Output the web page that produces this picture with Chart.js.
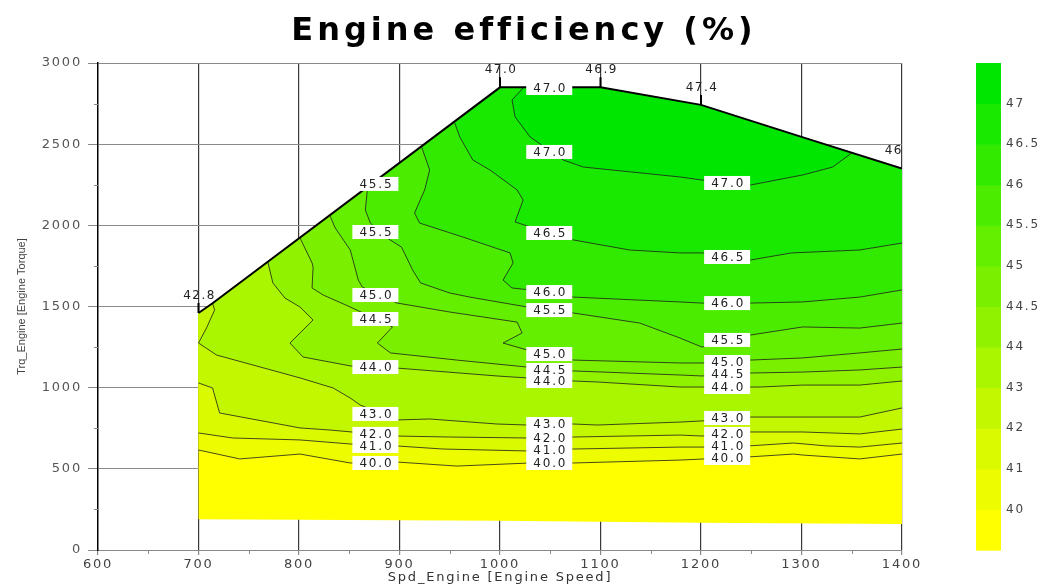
<!DOCTYPE html>
<html>
<head>
<meta charset="utf-8">
<title>Engine efficiency (%)</title>
<script src="https://cdn.jsdelivr.net/npm/chart.js"></script>
<style>
  html, body { margin: 0; padding: 0; background: #fff; }
  #wrap { width: 1044px; height: 585px; position: relative; }
</style>
</head>
<body>
<div id="wrap"><canvas id="effChart"></canvas></div>
<script>
// ---- values: speed in rpm, torque in Nm ----
const contourLevels = [40, 41, 42, 43, 44, 44.5, 45, 45.5, 46, 46.5, 47];
const cbTickLabels = ['40', '41', '42', '43', '44', '44.5', '45', '45.5', '46', '46.5', '47'];

// full load curve (top edge) and lowest measured torque (bottom edge)
const edgeSpeed = [700, 714, 1000, 1100, 1200, 1300, 1400];
const edgeTorque = [1460, 1520, 2850, 2850, 2742, 2545, 2350];
const floorSpeed = [700, 1000, 1200, 1400];
const floorTorque = [190, 180, 168, 160];

// efficiency printed on the full load curve
const edgeLabelSpeed = [700, 1000, 1100, 1200, 1400];
const edgeLabelTorque = [1460, 2850, 2850, 2742, 2350];
const edgeLabelText = ['42.8', '47.0', '46.9', '47.4', '46'];

// iso-efficiency lines
const c40Speed = [700, 741, 801, 851, 897, 957, 1030, 1073, 1179, 1247, 1292, 1301, 1358, 1400];
const c40Torque = [616, 561, 591, 536, 542, 517, 536, 536, 554, 573, 591, 585, 561, 591];
const c41Speed = [700, 734, 801, 851, 897, 943, 1027, 1073, 1179, 1201, 1247, 1292, 1325, 1358, 1400];
const c41Torque = [721, 690, 678, 653, 641, 622, 610, 622, 634, 634, 641, 659, 641, 634, 659];
const c42Speed = [700, 714, 721, 801, 831, 897, 950, 1027, 1073, 1179, 1201, 1247, 1301, 1358, 1400];
const c42Torque = [1029, 998, 844, 752, 739, 702, 696, 690, 696, 708, 702, 727, 727, 715, 745];
const c43Speed = [714, 716, 708, 700, 718, 801, 834, 851, 861, 897, 930, 997, 1027, 1073, 1097, 1179, 1201, 1247, 1301, 1358, 1400];
const c43Torque = [1520, 1478, 1368, 1275, 1201, 1060, 998, 936, 893, 801, 807, 776, 770, 776, 770, 788, 795, 819, 819, 819, 875];
const c44Speed = [769, 774, 786, 801, 814, 791, 804, 852, 897, 997, 1027, 1073, 1097, 1179, 1201, 1259, 1301, 1358, 1400];
const c44Torque = [1774, 1645, 1552, 1497, 1417, 1275, 1189, 1133, 1121, 1072, 1060, 1041, 1035, 1004, 1004, 1004, 1016, 1016, 1041];
const c445Speed = [801, 813, 814, 813, 824, 851, 893, 878, 891, 957, 1027, 1073, 1179, 1201, 1247, 1301, 1358, 1400];
const c445Torque = [1922, 1768, 1743, 1614, 1571, 1497, 1374, 1275, 1214, 1170, 1127, 1103, 1078, 1072, 1090, 1096, 1109, 1127];
const c45Speed = [831, 836, 851, 859, 863, 897, 950, 1017, 1022, 1003, 1027, 1073, 1179, 1201, 1249, 1301, 1358, 1400];
const c45Torque = [2057, 1984, 1848, 1663, 1620, 1522, 1466, 1404, 1337, 1275, 1232, 1170, 1152, 1152, 1170, 1183, 1214, 1238];
const c455Speed = [873, 868, 866, 871, 886, 902, 913, 921, 950, 970, 1027, 1073, 1139, 1179, 1201, 1249, 1301, 1358, 1400];
const c455Torque = [2255, 2218, 2094, 2014, 1928, 1866, 1725, 1645, 1583, 1558, 1497, 1460, 1398, 1306, 1250, 1324, 1374, 1367, 1398];
const c46Speed = [922, 930, 925, 915, 920, 963, 1010, 1013, 1003, 1012, 1030, 1073, 1179, 1201, 1249, 1301, 1358, 1400];
const c46Torque = [2483, 2341, 2218, 2076, 2014, 1928, 1830, 1768, 1663, 1614, 1602, 1558, 1528, 1521, 1521, 1528, 1558, 1602];
const c465Speed = [955, 960, 973, 990, 1017, 1023, 1015, 1030, 1073, 1129, 1179, 1201, 1249, 1290, 1358, 1400];
const c465Torque = [2630, 2544, 2402, 2341, 2218, 2156, 2021, 1990, 1910, 1848, 1830, 1830, 1786, 1830, 1848, 1891];
const c47Speed = [1023, 1012, 1015, 1030, 1063, 1083, 1179, 1201, 1249, 1301, 1331, 1350];
const c47Torque = [2846, 2772, 2668, 2544, 2402, 2359, 2298, 2279, 2248, 2310, 2359, 2446];

// inline labels on the iso lines (three columns)
const contourLabelSpeed = [
  876, 876, 876, 876, 876, 876, 876, 876, 876,
  1049, 1049, 1049, 1049, 1049, 1049, 1049, 1049, 1049, 1049, 1049, 1049,
  1226, 1226, 1226, 1226, 1226, 1226, 1226, 1226, 1226, 1226, 1226
];
const contourLabelTorque = [
  2255, 1959, 1571, 1423, 1127, 838, 715, 641, 536,
  2846, 2452, 1953, 1589, 1478, 1207, 1109, 1041, 776, 690, 616, 536,
  2261, 1805, 1521, 1294, 1158, 1084, 1004, 813, 715, 641, 567
];
const contourLabelText = [
  '45.5', '45.5', '45.0', '44.5', '44.0', '43.0', '42.0', '41.0', '40.0',
  '47.0', '47.0', '46.5', '46.0', '45.5', '45.0', '44.5', '44.0', '43.0', '42.0', '41.0', '40.0',
  '47.0', '46.5', '46.0', '45.5', '45.0', '44.5', '44.0', '43.0', '42.0', '41.0', '40.0'
];

// band colours, lowest (< 40) to highest (> 47)
const bandColours = [
  '#ffff00', '#eefc00', '#dafa00', '#c3f700', '#aaf500', '#91f200',
  '#7af000', '#64ee00', '#4bec00', '#32ea00', '#19e800', '#00e600'
];

const FONT = '"DejaVu Sans", "Liberation Sans", sans-serif';
const THIN = '"Liberation Sans", Arial, sans-serif';
Chart.defaults.font.family = FONT;

function pts(xs, ys) {
  return xs.map((x, i) => ({ x: x, y: ys[i] }));
}

const edge = pts(edgeSpeed, edgeTorque);
const floorLine = pts(floorSpeed, floorTorque);
const contours = [
  pts(c40Speed, c40Torque), pts(c41Speed, c41Torque), pts(c42Speed, c42Torque),
  pts(c43Speed, c43Torque), pts(c44Speed, c44Torque), pts(c445Speed, c445Torque),
  pts(c45Speed, c45Torque), pts(c455Speed, c455Torque), pts(c46Speed, c46Torque),
  pts(c465Speed, c465Torque), pts(c47Speed, c47Torque)
];

// whole mapped area
const envelope = floorLine.concat(edge.slice().reverse());

// area above an iso line: the line, then back along the full load curve
function regionAbove(line) {
  const s0 = line[0].x;
  const s1 = line[line.length - 1].x;
  const back = edge.filter(p => p.x >= s0 && p.x <= s1).reverse();
  return line.concat(back);
}

const datasets = [];
datasets.push({
  data: envelope, showLine: true, fill: 'shape', yAxisID: 'y',
  backgroundColor: bandColours[0], borderColor: 'rgba(0,0,0,0)', borderWidth: 0,
  pointRadius: 0, order: 40
});
contours.forEach((c, i) => {
  datasets.push({
    data: regionAbove(c), showLine: true, fill: 'shape', yAxisID: 'y',
    backgroundColor: bandColours[i + 1], borderColor: 'rgba(0,0,0,0)', borderWidth: 0,
    pointRadius: 0, order: 39 - i
  });
});
contours.forEach(c => {
  datasets.push({
    data: c, showLine: true, fill: false, yAxisID: 'y',
    borderColor: 'rgba(30,30,30,0.8)', borderWidth: 1, pointRadius: 0, order: 2
  });
});
datasets.push({
  data: edge, showLine: true, fill: false, yAxisID: 'y',
  borderColor: '#000', borderWidth: 2, pointRadius: 0, order: 1
});

function seg(ctx, x1, y1, x2, y2) {
  ctx.beginPath();
  ctx.moveTo(x1, y1);
  ctx.lineTo(x2, y2);
  ctx.stroke();
}

const mapExtras = {
  id: 'mapExtras',
  beforeDraw(chart) {
    chart.ctx.letterSpacing = '1.8px';
  },
  afterDraw(chart) {
    const ctx = chart.ctx;
    const xs = chart.scales.x, ys = chart.scales.y, cb = chart.scales.cb;
    const area = chart.chartArea;

    // minor ticks
    ctx.save();
    ctx.strokeStyle = '#888';
    ctx.lineWidth = 1;
    for (let v = xs.min + 50; v < xs.max; v += 100) {
      const px = Math.round(xs.getPixelForValue(v)) + 0.5;
      seg(ctx, px, area.bottom, px, area.bottom + 4);
    }
    for (let v = ys.min + 250; v < ys.max; v += 500) {
      const py = Math.round(ys.getPixelForValue(v)) + 0.5;
      seg(ctx, area.left - 4, py, area.left, py);
    }
    ctx.restore();

    // colour bar
    ctx.save();
    const barX = cb.left + 74;
    bandColours.forEach((col, i) => {
      const yTop = cb.getPixelForValue(i + 1);
      const yBot = cb.getPixelForValue(i);
      ctx.fillStyle = col;
      ctx.fillRect(barX, yTop, 25, yBot - yTop + 0.6);
    });
    ctx.restore();

    // values on the full load curve
    ctx.save();
    ctx.font = '12px ' + FONT;
    ctx.letterSpacing = '1.5px';
    ctx.fillStyle = '#222';
    ctx.textBaseline = 'middle';
    ctx.strokeStyle = '#000';
    ctx.lineWidth = 2;
    edgeLabelText.forEach((t, i) => {
      const px = xs.getPixelForValue(edgeLabelSpeed[i]);
      const py = ys.getPixelForValue(edgeLabelTorque[i]);
      if (i < edgeLabelText.length - 1) {
        seg(ctx, px, py, px, py - 10);
        ctx.textAlign = 'center';
        ctx.fillText(t, px + 1, py - 17);
      } else {
        ctx.textAlign = 'right';
        ctx.fillText(t, px + 1, py - 18);
      }
    });
    ctx.restore();

    // inline labels on iso lines
    ctx.save();
    ctx.fillStyle = '#fff';
    const boxes = contourLabelText.map((t, i) => ({
      x: xs.getPixelForValue(contourLabelSpeed[i]),
      y: ys.getPixelForValue(contourLabelTorque[i]),
      t: t
    }));
    boxes.forEach(b => ctx.fillRect(b.x - 23, b.y - 7, 46, 14));
    ctx.font = '12px ' + FONT;
    ctx.letterSpacing = '1.8px';
    ctx.fillStyle = '#222';
    ctx.textAlign = 'center';
    ctx.textBaseline = 'middle';
    boxes.forEach(b => ctx.fillText(b.t, b.x + 1, b.y + 0.5));
    ctx.restore();

    // y axis title (rotated)
    ctx.save();
    ctx.translate(22, (area.top + area.bottom) / 2);
    ctx.rotate(-Math.PI / 2);
    ctx.letterSpacing = '0px';
    ctx.font = '11px ' + THIN;
    ctx.fillStyle = '#444';
    ctx.textAlign = 'center';
    ctx.textBaseline = 'middle';
    ctx.fillText('Trq_Engine [Engine Torque]', 0, 0);
    ctx.restore();

    // chart title
    ctx.save();
    ctx.letterSpacing = '4px';
    ctx.font = 'bold 32px ' + FONT;
    ctx.fillStyle = '#000';
    ctx.textAlign = 'center';
    ctx.textBaseline = 'middle';
    ctx.fillText('Engine efficiency (%)', 524, 32);
    ctx.restore();
  }
};

new Chart(document.getElementById('effChart'), {
  type: 'scatter',
  data: { datasets: datasets },
  options: {
    responsive: true,
    maintainAspectRatio: false,
    animation: false,
    layout: { padding: { top: 63, left: 0, right: 0, bottom: 0 } },
    plugins: {
      legend: { display: false },
      tooltip: { enabled: false },
      title: { display: false }
    },
    scales: {
      x: {
        type: 'linear', min: 600, max: 1400, z: 1,
        ticks: {
          stepSize: 100, autoSkip: false, maxRotation: 0, color: '#444', padding: 2,
          font: { size: 13 }, callback: v => String(v)
        },
        grid: {
          color: c => (c.tick && c.tick.value === 600) ? 'rgba(0,0,0,0)' : '#3a3a3a',
          lineWidth: 1.2, tickLength: 5, tickColor: '#888'
        },
        border: { color: '#888', width: 1 },
        title: { display: true, text: 'Spd_Engine [Engine Speed]', color: '#333', padding: 0, font: { size: 13 } },
        afterFit: s => { s.height = 35; }
      },
      y: {
        type: 'linear', position: 'left', min: 0, max: 3000, z: 1,
        ticks: { stepSize: 500, color: '#555', padding: 6, font: { size: 13 }, callback: v => String(v) },
        grid: { color: '#8a8a8a', lineWidth: 1, tickLength: 10, tickColor: '#888' },
        border: { color: '#000', width: 1.5 },
        afterFit: s => { s.width = 98; }
      },
      cb: {
        type: 'linear', position: 'right', min: 0, max: 12,
        ticks: {
          stepSize: 1, padding: 0, color: '#444', font: { size: 12 },
          callback: v => (v >= 1 && v <= 11) ? cbTickLabels[v - 1] : ''
        },
        grid: {
          display: true, drawOnChartArea: false, drawTicks: true,
          tickLength: 104, tickColor: 'rgba(0,0,0,0)', color: 'rgba(0,0,0,0)'
        },
        border: { display: false },
        afterFit: s => { s.width = 142; }
      }
    }
  },
  plugins: [mapExtras]
});
</script>
</body>
</html>
